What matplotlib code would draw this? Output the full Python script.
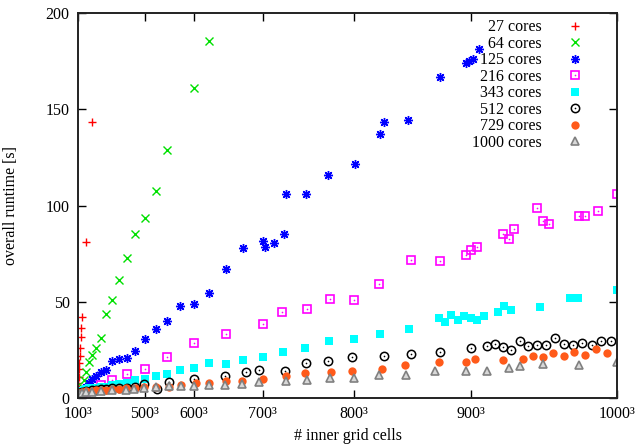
import matplotlib
matplotlib.use("Agg")
import matplotlib.pyplot as plt
import numpy as np
from matplotlib.legend_handler import HandlerTuple

plt.rcParams['font.family'] = ['Liberation Serif', 'DejaVu Serif']
plt.rcParams['font.size'] = 11.5

# ---------------- Data ---------------- #
# grid edge length N (grid has N^3 inner cells) and overall runtime in seconds

n_27 = [100, 110, 120, 130, 140, 150, 160, 170, 180, 190, 200, 250, 300]
t_27 = [4.5, 6.0, 7.7, 11.0, 14.9, 18.3, 21.8, 26.0, 31.6, 36.3, 42.0, 81.0, 143.2]

n_64 = [100, 125, 150, 175, 200, 225, 250, 275, 300, 325, 350, 375, 400, 425,
        450, 475, 500, 525, 550, 600, 625]
t_64 = [1.0, 1.7, 3.0, 4.3, 5.9, 9.5, 13.5, 18.7, 22.5, 26.1, 31.3, 43.6, 51.1, 61.1,
        72.9, 85.0, 93.3, 107.5, 129.0, 161.2, 185.5]

n_125 = [100, 125, 150, 175, 200, 225, 250, 275, 300, 325, 350, 375, 400, 425, 450,
         475, 500, 525, 550, 575, 600, 625, 650, 675, 700, 703, 714, 726, 729, 751,
         774, 801, 825, 828, 849, 876, 896, 899, 902, 906]
t_125 = [0.7, 1.1, 1.7, 2.4, 3.4, 4.6, 5.9, 7.7, 9.7, 11.6, 13.4, 14.5, 19.4, 20.1, 20.9,
         24.4, 30.8, 35.7, 40.2, 47.9, 49.0, 54.7, 67.2, 77.9, 81.7, 78.6, 80.5, 85.0, 105.8, 105.8,
         115.8, 121.7, 137.1, 143.2, 144.6, 166.9, 173.8, 175.1, 176.1, 181.3]

n_216 = [100, 150, 200, 250, 300, 350, 400, 450, 500, 550, 600, 650, 700, 724, 752,
         776, 800, 824, 852, 876, 896, 900, 905, 924, 928, 932, 948, 952, 956, 976,
         980, 988, 1000]
t_216 = [0.5, 1.2, 2.0, 3.1, 4.9, 6.9, 9.6, 12.5, 15.1, 21.5, 28.6, 33.2, 38.4, 44.8, 46.4,
         51.3, 50.9, 59.4, 71.8, 71.3, 74.1, 76.7, 78.3, 85.0, 82.4, 88.0, 98.5, 92.1, 90.4, 94.4,
         94.4, 97.0, 105.8]

n_343 = [100, 125, 150, 175, 200, 225, 250, 275, 300, 325, 350, 375, 400, 425, 450,
         475, 500, 525, 550, 575, 600, 625, 650, 675, 700, 725, 750, 775, 800, 825,
         850, 875, 880, 885, 890, 895, 900, 905, 910, 920, 925, 930, 950, 970, 975, 1000]
t_343 = [2.0, 2.3, 2.8, 3.3, 3.8, 4.2, 4.6, 5.0, 5.4, 5.4, 5.6, 5.9, 6.8, 7.3, 7.9,
         9.2, 10.0, 11.6, 12.6, 14.7, 15.7, 18.3, 17.8, 19.9, 21.5, 24.1, 26.1, 29.8, 30.8, 33.4,
         36.0, 41.7, 39.5, 43.3, 40.7, 42.8, 41.7, 40.7, 42.8, 44.7, 48.0, 45.9, 47.4, 52.1, 52.1, 56.3]

n_512 = [100, 150, 200, 250, 300, 325, 350, 375, 400, 425, 451, 475, 498, 529, 554,
         600, 649, 678, 696, 727, 751, 774, 798, 828, 852, 876, 900, 912, 918, 924,
         930, 936, 942, 948, 954, 960, 966, 972, 978, 984, 990, 996]
t_512 = [2.5, 2.8, 3.2, 3.6, 4.1, 4.3, 4.6, 4.8, 5.0, 5.2, 5.4, 5.9, 7.1, 4.8, 8.3,
         9.7, 11.4, 13.7, 14.4, 14.2, 18.3, 19.2, 21.1, 21.8, 22.8, 23.8, 26.0, 26.8, 27.8, 26.5,
         24.8, 29.8, 26.8, 27.7, 27.7, 31.0, 28.2, 27.3, 28.7, 27.3, 29.6, 29.4]

n_729 = [100, 150, 200, 250, 300, 325, 350, 375, 400, 424, 449, 474, 498, 526, 553,
         576, 603, 625, 651, 673, 701, 729, 750, 777, 798, 826, 847, 875, 896, 903,
         924, 938, 945, 952, 959, 966, 973, 980, 987, 994]
t_729 = [2.2, 2.6, 3.0, 3.4, 3.8, 4.0, 4.2, 4.4, 4.5, 4.5, 5.0, 5.4, 5.6, 5.6, 5.9,
         6.8, 7.6, 7.9, 9.0, 9.0, 10.0, 11.6, 12.8, 13.7, 13.9, 15.1, 17.2, 18.5, 18.5, 20.1,
         19.7, 20.3, 22.0, 21.1, 23.2, 21.7, 23.9, 22.5, 25.5, 23.4]

n_1000 = [100, 150, 200, 250, 300, 350, 400, 448, 472, 497, 527, 553, 576, 600, 625,
          649, 673, 696, 728, 752, 776, 800, 824, 848, 872, 896, 912, 928, 936, 952,
          976, 1000]
t_1000 = [2.0, 2.3, 2.6, 3.0, 3.3, 3.6, 4.0, 4.4, 4.7, 5.0, 5.9, 6.0, 6.2, 6.4, 6.6,
          6.9, 7.3, 8.2, 9.0, 9.5, 10.2, 10.5, 11.8, 12.0, 14.0, 14.0, 14.2, 15.6, 16.6, 17.5,
          17.1, 18.7]

tick_n = [100, 500, 600, 700, 800, 900, 1000]
y_ticks = [0, 50, 100, 150, 200]

# ---------------- Plot ---------------- #

fig = plt.figure(figsize=(6.37, 4.48), dpi=100)
ax = fig.add_axes([78 / 637, 1 - 398 / 448, 539 / 637, 385 / 448])

def cells(n):
    return np.array(n, dtype=float) ** 3

handles = []
labels = []

h, = ax.plot(cells(n_27), t_27, ls='none', marker='+', color='#ff0000', ms=6, mew=1.0)
handles.append(h); labels.append("27 cores")

h, = ax.plot(cells(n_64), t_64, ls='none', marker='x', color='#00e000', ms=5.5, mew=1.0)
handles.append(h); labels.append("64 cores")

h, = ax.plot(cells(n_125), t_125, ls='none', marker=(8, 2, 0), color='#0000ff', ms=6.5, mew=1.0)
handles.append(h); labels.append("125 cores")

# open square with a dot in the middle
h1, = ax.plot(cells(n_216), t_216, ls='none', marker='s', mfc='none', mec='#ff00ff', ms=6, mew=1.2)
h2, = ax.plot(cells(n_216), t_216, ls='none', marker='o', color='#ff00ff', ms=1.2, mew=0)
handles.append((h1, h2)); labels.append("216 cores")

h, = ax.plot(cells(n_343), t_343, ls='none', marker='s', color='#00ffff', ms=6, mew=0)
handles.append(h); labels.append("343 cores")

h1, = ax.plot(cells(n_512), t_512, ls='none', marker='o', mfc='none', mec='black', ms=6, mew=1.1)
h2, = ax.plot(cells(n_512), t_512, ls='none', marker='o', color='black', ms=1.2, mew=0)
handles.append((h1, h2)); labels.append("512 cores")

h, = ax.plot(cells(n_729), t_729, ls='none', marker='o', color='#ff5a1a', ms=6, mew=0)
handles.append(h); labels.append("729 cores")

h, = ax.plot(cells(n_1000), t_1000, ls='none', marker='^', mfc='#d8d8d8', mec='#808080', ms=6, mew=1.2)
handles.append(h); labels.append("1000 cores")

ax.set_xlim(100 ** 3, 1000 ** 3)
ax.set_ylim(0, 200)
ax.set_xticks(cells(tick_n))
ax.set_xticklabels([f"{n}\u00b3" for n in tick_n])
ax.set_yticks(y_ticks)

ax.tick_params(direction='in', top=True, right=True, length=6, width=1, pad=6)
for s in ax.spines.values():
    s.set_linewidth(1.4)
    s.set_color('#222222')

ax.set_xlabel("# inner grid cells", labelpad=4)
ax.set_ylabel("overall runtime [s]", labelpad=19)

ax.legend(handles, labels, loc='upper right', bbox_to_anchor=(0.985, 1.029),
          frameon=False, markerfirst=False,
          handler_map={tuple: HandlerTuple(ndivide=1)},
          handlelength=2.0, handletextpad=1.1, labelspacing=0.03,
          borderaxespad=0.9, borderpad=0.2)

fig.savefig("out.png", dpi=100)
